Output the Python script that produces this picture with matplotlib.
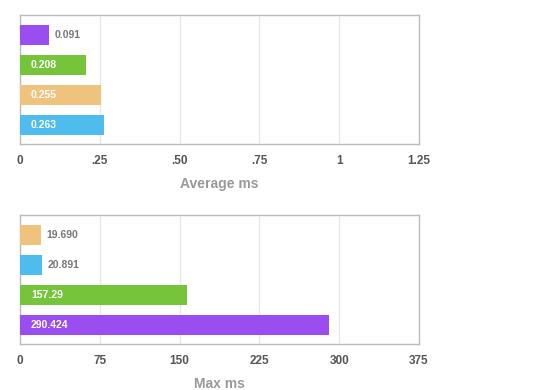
import matplotlib.pyplot as plt

avgValues = [0.091, 0.208, 0.255, 0.263]
avgLabels = ["0.091", "0.208", "0.255", "0.263"]
avgColors = ["#9b4ef0", "#76c43a", "#efc27e", "#4ebdee"]
avgTicks = [0, 0.25, 0.5, 0.75, 1, 1.25]
avgTickLabels = ["0", ".25", ".50", ".75", "1", "1.25"]

maxValues = [19.690, 20.891, 157.29, 290.424]
maxLabels = ["19.690", "20.891", "157.29", "290.424"]
maxColors = ["#efc27e", "#4ebdee", "#76c43a", "#9b4ef0"]
maxTicks = [0, 75, 150, 225, 300, 375]
maxTickLabels = ["0", "75", "150", "225", "300", "375"]

plt.rcParams["font.family"] = ["Liberation Sans", "DejaVu Sans"]

fig = plt.figure(figsize=(5.6, 3.9), dpi=100)


def drawPanel(rect, values, labels, colors, ticks, tickLabels, xlabel):
    ax = fig.add_axes(rect)
    pos = list(range(len(values)))
    ax.barh(pos, values, height=0.667, color=colors, zorder=3)
    ax.set_ylim(3.633, -0.667)
    ax.set_xlim(ticks[0], ticks[-1])
    ax.set_yticks([])
    ax.set_xticks(ticks)
    ax.set_xticklabels(tickLabels, fontsize=8.5, color="#555555", fontweight="bold")
    ax.tick_params(axis="x", length=0, pad=8)
    ax.grid(axis="x", color="#e8e8e8", linewidth=1, zorder=0)
    for s in ax.spines.values():
        s.set_color("#bbbbbb")
        s.set_linewidth(1)
    ax.set_xlabel(xlabel, fontsize=10, color="#999999", fontweight="bold", labelpad=7)
    span = ticks[-1] - ticks[0]
    # long bars get a white label inside, short ones a grey label after the bar
    for p, v, t in zip(pos, values, labels):
        if v / span > 0.1:
            ax.annotate(t, (0, p), xytext=(8, 0), textcoords="offset points",
                        va="center", ha="left", fontsize=7.5, color="white",
                        fontweight="bold", zorder=4)
        else:
            ax.annotate(t, (v, p), xytext=(4, 0), textcoords="offset points",
                        va="center", ha="left", fontsize=7.5, color="#777777",
                        fontweight="bold", zorder=4)
    return ax


drawPanel([20 / 560, 1 - 144 / 390, 399 / 560, 129 / 390],
          avgValues, avgLabels, avgColors, avgTicks, avgTickLabels, "Average ms")
drawPanel([20 / 560, 1 - 344 / 390, 399 / 560, 129 / 390],
          maxValues, maxLabels, maxColors, maxTicks, maxTickLabels, "Max ms")

fig.savefig("out.png", dpi=100)
